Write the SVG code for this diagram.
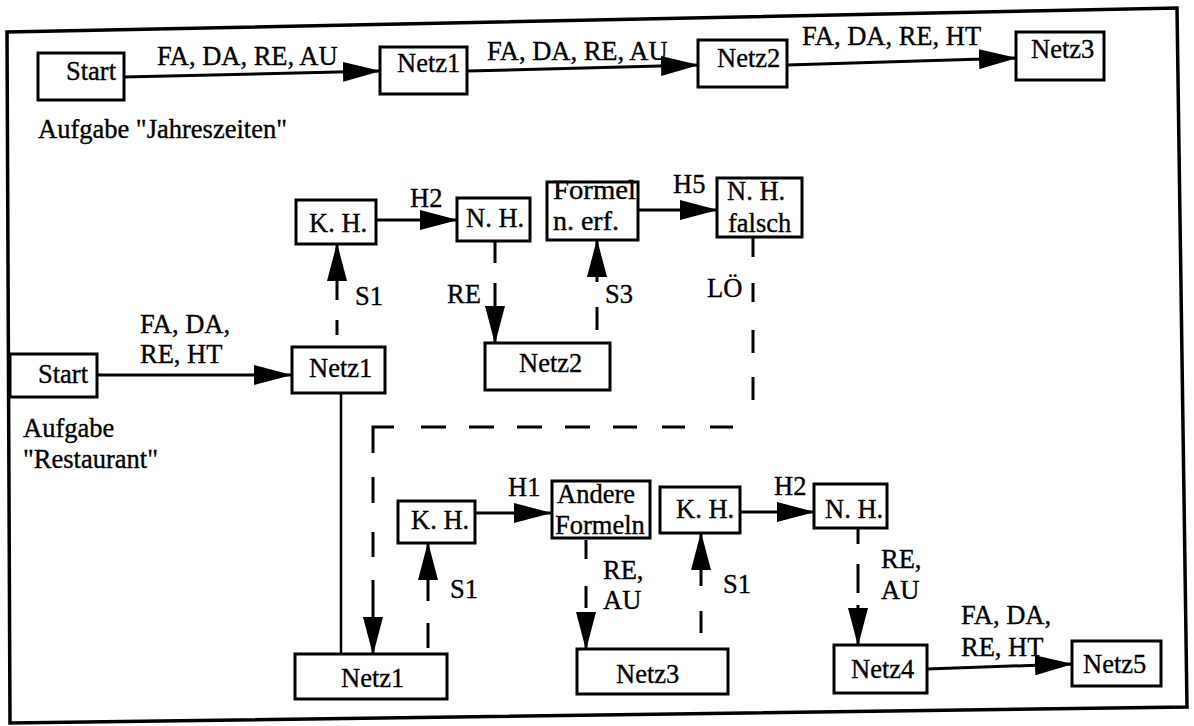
<svg xmlns="http://www.w3.org/2000/svg" width="1194" height="726" viewBox="0 0 1194 726">
<style>
.box{fill:#fff;stroke:#000;stroke-width:3}
.t{font-family:"Liberation Serif","Times New Roman",serif;font-size:26.5px;fill:#000;stroke:#000;stroke-width:0.35}
.c{fill:none;stroke:#000;stroke-width:3}
.frame{fill:none;stroke:#000;stroke-width:3.5}
</style>
<defs>
<marker id="ah" markerUnits="userSpaceOnUse" viewBox="0 0 38 20" markerWidth="38" markerHeight="20" refX="37" refY="10" orient="auto">
<path d="M0,0 L38,10 L0,20 z" fill="#000"/>
</marker>
</defs>
<rect x="0" y="0" width="1194" height="726" fill="#fff"/>
<polygon class="frame" points="7,32 1177,8 1187,707 10,723"/>

<g id="connectors">
<path class="c" d="M124,77 L380,71" marker-end="url(#ah)"/>
<path class="c" d="M467,71 L698,65" marker-end="url(#ah)"/>
<path class="c" d="M787,65 L1016,58" marker-end="url(#ah)"/>
<path class="c" d="M97,375 L291,375" marker-end="url(#ah)"/>
<path class="c" d="M376,220 L457,220" marker-end="url(#ah)"/>
<path class="c" d="M638,210 L717,210" marker-end="url(#ah)"/>
<path class="c" d="M337,335 V320 M337,300 V244" marker-end="url(#ah)"/>
<path class="c" d="M495,241 V263 M495,283 V343" marker-end="url(#ah)"/>
<path class="c" d="M597,330 V307 M597,282 V240" marker-end="url(#ah)"/>
<path class="c" d="M753,237 V257 M753,283 V302 M753,330 V353 M753,377 V400 M733,427 H710 M685,427 H662 M637,427 H613 M590,427 H565 M542,427 H517 M494,427 H469 M446,427 H421 M394,427 H373 V453 M373,477 V503 M373,532 V557 M373,580 V654" marker-end="url(#ah)"/>
<path class="c" d="M341,393 V654" style="stroke-width:2.5"/>
<path class="c" d="M428,648 V623 M428,601 V543" marker-end="url(#ah)"/>
<path class="c" d="M475,513 L551,513" marker-end="url(#ah)"/>
<path class="c" d="M586,540 V559 M586,586 V608 M586,615 V649" marker-end="url(#ah)"/>
<path class="c" d="M701,633 V611 M701,586 V533" marker-end="url(#ah)"/>
<path class="c" d="M740,512 L814,512" marker-end="url(#ah)"/>
<path class="c" d="M858,528 V544 M858,564 V593 M858,605 V645" marker-end="url(#ah)"/>
<path class="c" d="M927,669 L1072,664" marker-end="url(#ah)"/>
<text class="t" x="157" y="65">FA, DA, RE, AU</text>
<text class="t" x="487" y="60">FA, DA, RE, AU</text>
<text class="t" x="802" y="45">FA, DA, RE, HT</text>
<text class="t" x="140" y="333">FA, DA,</text>
<text class="t" x="140" y="363">RE, HT</text>
<text class="t" x="410" y="207">H2</text>
<text class="t" x="673" y="193">H5</text>
<text class="t" x="355" y="305">S1</text>
<text class="t" x="447" y="303">RE</text>
<text class="t" x="605" y="303">S3</text>
<text class="t" x="707" y="297">LÖ</text>
<text class="t" x="508" y="496">H1</text>
<text class="t" x="450" y="598">S1</text>
<text class="t" x="603" y="579">RE,</text>
<text class="t" x="603" y="609">AU</text>
<text class="t" x="723" y="593">S1</text>
<text class="t" x="774" y="495">H2</text>
<text class="t" x="881" y="568">RE,</text>
<text class="t" x="881" y="599">AU</text>
<text class="t" x="961" y="624">FA, DA,</text>
<text class="t" x="961" y="656">RE, HT</text>
</g>

<g id="n-start1"><rect class="box" x="38" y="53" width="86" height="47"/><text class="t" x="66" y="80">Start</text></g>
<g id="n-netz1-top"><rect class="box" x="380" y="47" width="87" height="47"/><text class="t" x="397" y="72">Netz1</text></g>
<g id="n-netz2-top"><rect class="box" x="698" y="40" width="89" height="47"/><text class="t" x="717" y="67">Netz2</text></g>
<g id="n-netz3-top"><rect class="box" x="1016" y="32" width="88" height="48"/><text class="t" x="1031" y="58">Netz3</text></g>
<g id="label-jahreszeiten"><text class="t" x="38" y="138">Aufgabe "Jahreszeiten"</text></g>

<g id="n-kh1"><rect class="box" x="296" y="200" width="80" height="44"/><text class="t" x="309" y="232">K. H.</text></g>
<g id="n-nh1"><rect class="box" x="457" y="198" width="73" height="43"/><text class="t" x="466" y="227">N. H.</text></g>
<g id="n-formel"><rect class="box" x="547" y="182" width="91" height="58"/><text class="t" x="553" y="199" textLength="83" lengthAdjust="spacingAndGlyphs">Formel</text><text class="t" x="553" y="230" textLength="66" lengthAdjust="spacingAndGlyphs">n. erf.</text></g>
<g id="n-nhfalsch"><rect class="box" x="717" y="178" width="85" height="59"/><text class="t" x="727" y="200">N. H.</text><text class="t" x="728" y="232">falsch</text></g>
<g id="n-start2"><rect class="box" x="10" y="354" width="87" height="43"/><text class="t" x="38" y="383">Start</text></g>
<g id="n-netz1-mid"><rect class="box" x="292" y="347" width="93" height="46"/><text class="t" x="309" y="377">Netz1</text></g>
<g id="n-netz2-mid"><rect class="box" x="485" y="343" width="125" height="47"/><text class="t" x="519" y="372">Netz2</text></g>
<g id="label-restaurant"><text class="t" x="23" y="437">Aufgabe</text><text class="t" x="23" y="468">"Restaurant"</text></g>

<g id="n-netz1-bot"><rect class="box" x="295" y="654" width="152" height="45"/><text class="t" x="341" y="687">Netz1</text></g>
<g id="n-kh2"><rect class="box" x="398" y="501" width="77" height="42"/><text class="t" x="411" y="529">K. H.</text></g>
<g id="n-andere"><rect class="box" x="552" y="481" width="98" height="57"/><text class="t" x="557" y="503">Andere</text><text class="t" x="555" y="534">Formeln</text></g>
<g id="n-netz3-bot"><rect class="box" x="577" y="649" width="151" height="45"/><text class="t" x="616" y="683">Netz3</text></g>
<g id="n-kh3"><rect class="box" x="660" y="487" width="80" height="46"/><text class="t" x="676" y="518">K. H.</text></g>
<g id="n-nh2"><rect class="box" x="814" y="484" width="73" height="44"/><text class="t" x="825" y="518">N. H.</text></g>
<g id="n-netz4"><rect class="box" x="834" y="645" width="93" height="48"/><text class="t" x="851" y="678">Netz4</text></g>
<g id="n-netz5"><rect class="box" x="1072" y="641" width="89" height="45"/><text class="t" x="1083" y="673">Netz5</text></g>
</svg>
